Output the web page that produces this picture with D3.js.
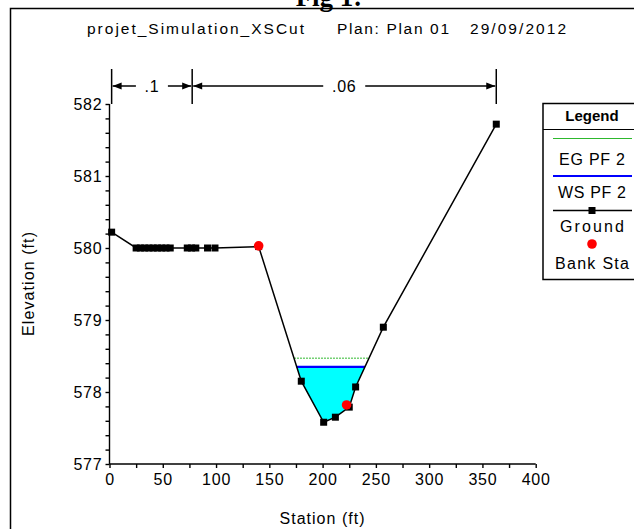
<!DOCTYPE html>
<html>
<head>
<script src="https://d3js.org/d3.v7.min.js"></script>
<style>
  body { margin: 0; background: #fff; }
  svg { display: block; font-family: Arial, "Liberation Sans", sans-serif; }
  .tick text { font-size: 16px; letter-spacing: 0.8px; fill: #000; }
  .tick line, .domain { stroke: #000; stroke-width: 1.4; }
</style>
</head>
<body>
<svg id="chart" width="634" height="529"></svg>
<script>
// cross section data
const groundSta  = [2, 25, 29, 33, 37, 41, 45, 49, 53, 57, 73, 77, 81, 92, 99, 140, 180, 201, 212, 225, 231, 257, 363];
const groundElev = [580.22, 580, 580, 580, 580, 580, 580, 580, 580, 580, 580, 580, 580, 580, 580, 580.02, 578.15, 577.58, 577.65, 577.79, 578.07, 578.9, 581.72];
const bankSta  = [140, 222.5];
const bankElev = [580.03, 577.82];
const wsElev = 578.35;   // WS PF 2
const egElev = 578.47;   // EG PF 2
const nBreaks = [2, 77.6, 363];
const nValues = [".1", ".06"];
const xTicks = [0, 50, 100, 150, 200, 250, 300, 350, 400];
const yTicks = [577, 578, 579, 580, 581, 582];
const legendItems = ["EG PF 2", "WS PF 2", "Ground", "Bank Sta"];

const svg = d3.select("#chart")
const x = d3.scaleLinear().domain([0, 400]).range([109.5, 535.7])
const y = d3.scaleLinear().domain([577, 582]).range([464, 104])

const ground = groundSta.map((s, i) => [s, groundElev[i]])

// frame + caption above it (cut by the page top, as in the scan)
svg.append("text").attr("x", 329).attr("y", 6).attr("text-anchor", "middle")
  .style("font-family", "'Liberation Serif', 'Times New Roman', serif")
  .style("font-weight", "bold").style("font-size", "27px").text("Fig 1:")
svg.append("rect").attr("x", 10.5).attr("y", 8.5).attr("width", 640).attr("height", 540)
  .attr("fill", "none").attr("stroke", "#000").attr("stroke-width", 1.5)

// title pieces
const titles = [["projet_Simulation_XSCut", 87, 217], ["Plan: Plan 01", 337, 112], ["29/09/2012", 470, 96]]
titles.forEach(t => {
  svg.append("text").attr("x", t[1]).attr("y", 34).attr("textLength", t[2])
    .attr("lengthAdjust", "spacing").style("font-size", "15.5px").text(t[0])
})

// water area below the water surface
function crossings(level) {
  let pts = []
  for (let i = 0; i < ground.length - 1; i++) {
    const [s0, e0] = ground[i], [s1, e1] = ground[i + 1]
    if ((e0 - level) * (e1 - level) < 0) {
      pts.push(s0 + (level - e0) / (e1 - e0) * (s1 - s0))
    }
  }
  return pts
}
const wsX = crossings(wsElev)
const wsL = wsX[0], wsR = wsX[wsX.length - 1]
const waterPoly = [[wsL, wsElev]].concat(ground.filter(d => d[0] > wsL && d[0] < wsR)).concat([[wsR, wsElev]])
svg.append("path")
  .attr("d", d3.line().x(d => x(d[0])).y(d => y(d[1]))(waterPoly) + "Z")
  .attr("fill", "#00ffff")

const egX = crossings(egElev)
svg.append("line").attr("x1", x(egX[0])).attr("x2", x(egX[egX.length - 1]))
  .attr("y1", y(egElev)).attr("y2", y(egElev))
  .attr("stroke", "#2db82d").attr("stroke-width", 1).attr("stroke-dasharray", "2,1")
svg.append("line").attr("x1", x(wsL)).attr("x2", x(wsR))
  .attr("y1", y(wsElev)).attr("y2", y(wsElev))
  .attr("stroke", "#0000ff").attr("stroke-width", 2.2)

// axes
const yAxis = svg.append("g").attr("transform", `translate(${x(0)},0)`)
  .call(d3.axisLeft(y).tickValues(d3.range(577, 582.01, 0.2)).tickSize(4).tickPadding(3)
    .tickFormat(d => yTicks.some(t => Math.abs(t - d) < 1e-6) ? d3.format("d")(Math.round(d)) : ""))
const xAxis = svg.append("g").attr("transform", `translate(0,${y(577)})`)
  .call(d3.axisBottom(x).tickValues(d3.range(0, 401, 25)).tickSize(4).tickPadding(6)
    .tickFormat(d => xTicks.includes(d) ? d : ""))
yAxis.select(".domain").attr("d", `M0,${y(582)}V${y(577)}`)
xAxis.select(".domain").attr("d", `M${x(0)},0H${x(400)}`)

svg.append("text").attr("x", 322).attr("y", 524).attr("text-anchor", "middle")
  .attr("textLength", 85).style("font-size", "16px").text("Station (ft)")
svg.append("text").attr("transform", "translate(34,284) rotate(-90)").attr("text-anchor", "middle")
  .attr("textLength", 104).style("font-size", "16px").text("Elevation (ft)")

// Manning n brackets
const by = 86
nBreaks.forEach(s => {
  svg.append("line").attr("x1", x(s)).attr("x2", x(s)).attr("y1", 69).attr("y2", 104)
    .attr("stroke", "#000").attr("stroke-width", 1.5)
})
for (let i = 0; i < nValues.length; i++) {
  const a = x(nBreaks[i]), b = x(nBreaks[i + 1]), m = (a + b) / 2
  const half = nValues[i].length * 5 + 6
  svg.append("line").attr("x1", a + 1).attr("x2", m - half).attr("y1", by).attr("y2", by).attr("stroke", "#000").attr("stroke-width", 1.5)
  svg.append("line").attr("x1", m + half).attr("x2", b - 1).attr("y1", by).attr("y2", by).attr("stroke", "#000").attr("stroke-width", 1.5)
  svg.append("path").attr("d", `M${a + 1},${by}l9,-3.5v7Z`).attr("fill", "#000")
  svg.append("path").attr("d", `M${b - 1},${by}l-9,-3.5v7Z`).attr("fill", "#000")
  svg.append("text").attr("x", m).attr("y", by + 6).attr("text-anchor", "middle")
    .style("font-size", "16px").style("letter-spacing", "0.8px").text(nValues[i])
}

// ground line and points
svg.append("path").datum(ground)
  .attr("d", d3.line().x(d => x(d[0])).y(d => y(d[1])))
  .attr("fill", "none").attr("stroke", "#000").attr("stroke-width", 1.5)
svg.selectAll(".gpt").data(ground).enter().append("rect")
  .attr("x", d => x(d[0]) - 3.5).attr("y", d => y(d[1]) - 3.5)
  .attr("width", 7).attr("height", 7).attr("fill", "#000")
svg.selectAll(".bank").data(bankSta).enter().append("circle")
  .attr("cx", d => x(d)).attr("cy", (d, i) => y(bankElev[i])).attr("r", 4.8).attr("fill", "#ff0000")

// legend
const lg = svg.append("g")
lg.append("rect").attr("x", 543).attr("y", 103.5).attr("width", 120).attr("height", 176)
  .attr("fill", "#fff").attr("stroke", "#000").attr("stroke-width", 1.5)
lg.append("line").attr("x1", 543).attr("x2", 640).attr("y1", 129.5).attr("y2", 129.5).attr("stroke", "#000").attr("stroke-width", 1.2)
lg.append("text").attr("x", 592).attr("y", 121).attr("text-anchor", "middle")
  .style("font-size", "15px").style("font-weight", "bold").text("Legend")
const symY = [138.5, 176, 210.5, 244]
const labY = [165, 198, 232, 269]
lg.append("line").attr("x1", 553).attr("x2", 632).attr("y1", symY[0]).attr("y2", symY[0]).attr("stroke", "#2db82d").attr("stroke-width", 1)
lg.append("line").attr("x1", 553).attr("x2", 632).attr("y1", symY[1]).attr("y2", symY[1]).attr("stroke", "#0000ff").attr("stroke-width", 2)
lg.append("line").attr("x1", 553).attr("x2", 632).attr("y1", symY[2]).attr("y2", symY[2]).attr("stroke", "#000").attr("stroke-width", 1.5)
lg.append("rect").attr("x", 588.5).attr("y", symY[2] - 3.5).attr("width", 7).attr("height", 7).attr("fill", "#000")
lg.append("circle").attr("cx", 592).attr("cy", symY[3]).attr("r", 4.8).attr("fill", "#ff0000")
const labW = [66, 68, 64, 74]
legendItems.forEach((t, i) => {
  lg.append("text").attr("x", 592).attr("y", labY[i]).attr("text-anchor", "middle")
    .attr("textLength", labW[i]).attr("lengthAdjust", "spacing").style("font-size", "16px").text(t)
})
</script>
</body>
</html>
